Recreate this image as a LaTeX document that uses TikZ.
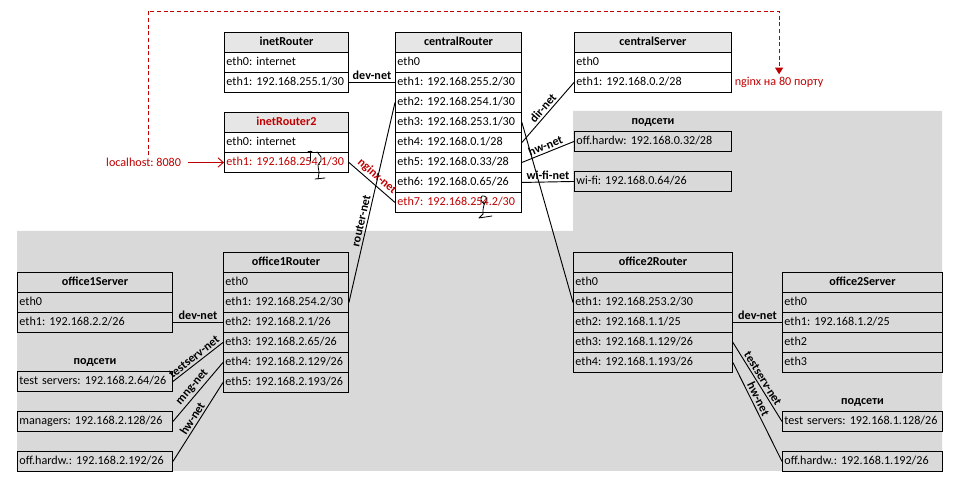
\documentclass[tikz,border=0pt]{standalone}
\usepackage{fontspec}
\setmainfont{Carlito}
\usepackage{tikz}
\usetikzlibrary{arrows.meta,positioning}
\usepackage{xcolor}
\definecolor{netred}{HTML}{C00000}
\definecolor{bggray}{HTML}{D9D9D9}
\definecolor{hdgray}{HTML}{E6E6E6}
\newcommand{\netfont}{\fontsize{9.1pt}{11pt}\selectfont\frenchspacing}

% box: name, x, y, width (px), up/low, rows (first one is the header)
\newcommand{\netbox}[6]{%
  \pgfmathsetmacro\cellw{#4*0.75}
  \pgfmathsetmacro\textw{#4*0.75-3}
  \foreach \txt [count=\i from 0] in {#6} {
    \ifnum\i=0
      \node[headcell, #5 head, minimum width=\cellw pt, text width=\textw pt] (#1-\i) at (#2,#3+20*\i) {\txt};
    \else
      \node[rowcell, #5 row, minimum width=\cellw pt, text width=\textw pt] (#1-\i) at (#2,#3+20*\i) {\txt};
    \fi
  }
}
% single cell: name, x, y, width (px), text
\newcommand{\netcell}[5]{%
  \pgfmathsetmacro\cellw{#4*0.75}
  \pgfmathsetmacro\textw{#4*0.75-3}
  \node[rowcell, minimum width=\cellw pt, text width=\textw pt] (#1) at (#2,#3) {#5};
}

\begin{document}
\begin{tikzpicture}[x=0.75pt, y=-0.75pt,
    every node/.style={font=\netfont},
    rowcell/.style={draw, line width=0.7pt, anchor=north west, align=left, inner xsep=1.5pt, inner ysep=0pt,
      minimum height=15pt, text height=6.5pt, text depth=2pt},
    headcell/.style={rowcell, align=center, font=\netfont\bfseries},
    up head/.style={fill=hdgray}, up row/.style={fill=white},
    low head/.style={}, low row/.style={},
    lab/.style={font=\netfont\bfseries, inner sep=1.5pt},
    link/.style={line width=0.7pt},
    redtxt/.style={text=netred, inner sep=2pt},
    squig/.style={line width=0.6pt, line cap=round, line join=round}]
  \useasboundingbox (0,0) rectangle (958,488);
  % gray area
  \fill[bggray] (17,231) -- (573,231) -- (573,111) -- (942,111) -- (942,471) -- (17,471) -- cycle;

  % Central part
  \netbox{ir}{224}{32}{124}{up}{inetRouter, eth0: internet, eth1: 192.168.255.1/30}
  \netbox{irr}{224}{112}{124}{up}{\textcolor{netred}{inetRouter2}, eth0: internet, \textcolor{netred}{eth1: 192.168.254.1/30}}
  \netbox{cr}{395}{32}{126}{up}{centralRouter, eth0, eth1: 192.168.255.2/30, eth2: 192.168.254.1/30,
    eth3: 192.168.253.1/30, eth4: 192.168.0.1/28, eth5: 192.168.0.33/28, eth6: 192.168.0.65/26,
    \textcolor{netred}{eth7: 192.168.254.2/30}}
  \netbox{cs}{574}{32}{157}{up}{centralServer, eth0, eth1: 192.168.0.2/28}
  \netcell{chw}{574}{131}{157}{off.hardw: 192.168.0.32/28}
  \netcell{cwifi}{574}{171}{157}{wi-fi: 192.168.0.64/26}
  \node[lab, above=2pt of chw] (csub) {подсети};

  % Office 1
  \netbox{oas}{17}{272}{155}{low}{office1Server, eth0, eth1: 192.168.2.2/26}
  \netbox{oar}{223}{252}{125}{low}{office1Router, eth0, eth1: 192.168.254.2/30, eth2: 192.168.2.1/26,
    eth3: 192.168.2.65/26, eth4: 192.168.2.129/26, eth5: 192.168.2.193/26}
  \netcell{ats}{17}{371}{155}{test servers: 192.168.2.64/26}
  \netcell{amg}{17}{411}{155}{managers: 192.168.2.128/26}
  \netcell{ahw}{17}{451}{155}{off.hardw.: 192.168.2.192/26}
  \node[lab, above=2pt of ats] (asub) {подсети};

  % Office 2
  \netbox{obr}{573}{252}{159}{low}{office2Router, eth0, eth1: 192.168.253.2/30, eth2: 192.168.1.1/25,
    eth3: 192.168.1.129/26, eth4: 192.168.1.193/26}
  \netbox{obs}{782}{272}{160}{low}{office2Server, eth0, eth1: 192.168.1.2/25, eth2, eth3}
  \netcell{bts}{782}{411}{160}{test servers: 192.168.1.128/26}
  \netcell{bhw}{782}{451}{160}{off.hardw.: 192.168.1.192/26}
  \node[lab, above=2pt of bts] (bsub) {подсети};

  % links
  \draw[link] (ir-2.east) -- node[lab, above] {dev-net} (cr-2.west);
  \draw[link] (irr-2.east) -- node[lab, sloped, above, text=netred] {nginx-net} (cr-8.west);
  \draw[link] (oar-2.east) -- node[lab, sloped, above, pos=0.4] {router-net} (cr-3.west);
  \draw[link] (cr-5.east) -- node[lab, sloped, above] {dir-net} (cs-2.west);
  \draw[link] (cr-6.east) -- node[lab, sloped, above] {hw-net} (chw.west);
  \draw[link] (cr-7.east) -- node[lab, above] {wi-fi-net} (cwifi.west);
  \draw[link] (cr-4.east) -- (obr-2.west);
  \draw[link] (oas-2.east) -- node[lab, above] {dev-net} (oar-3.west);
  \draw[link] (ats.east) -- node[lab, sloped, above] {testserv-net} (oar-4.west);
  \draw[link] (amg.east) -- node[lab, sloped, above] {mng-net} (oar-5.west);
  \draw[link] (ahw.east) -- node[lab, sloped, above] {hw-net} (oar-6.west);
  \draw[link] (obr-3.east) -- node[lab, above] {dev-net} (obs-2.west);
  \draw[link] (obr-4.east) -- node[lab, sloped, above] {testserv-net} (bts.west);
  \draw[link] (obr-5.east) -- node[lab, sloped, above, pos=0.4] {hw-net} (bhw.west);

  % port forwarding
  \node[redtxt, left=30pt of irr-2] (lh) {localhost: 8080};
  \node[redtxt, right=0pt of cs-2] (ngx) {nginx на 80 порту};
  \coordinate (dtop) at (148,11);
  \draw[netred, line width=0.7pt, shorten <=3pt, -{Straight Barb[length=4pt, width=7pt]}] (lh.east) -- (irr-2.west);
  \draw[netred, line width=0.7pt, dash pattern=on 3pt off 2pt, -{Triangle[length=5pt, width=6pt]}]
    (lh.north -| dtop) -- (dtop) -| (ngx.north);

  % hand marks
  \draw[squig] (310,151) -- (310,161);
  \draw[squig] (308,151) -- (312,151);
  \draw[squig] plot[smooth] coordinates {(317,152) (321,157) (321,161) (318,165) (319,172) (318,179)};
  \draw[squig] (315,179) -- (325,178);
  \draw[squig] plot[smooth] coordinates {(484,204) (481,200) (482,196) (486,197) (486,201) (484,205) (483,210) (483,214)};
  \draw[squig] (479,218) -- (483,214) (479,218) -- (492,216);
\end{tikzpicture}
\end{document}
